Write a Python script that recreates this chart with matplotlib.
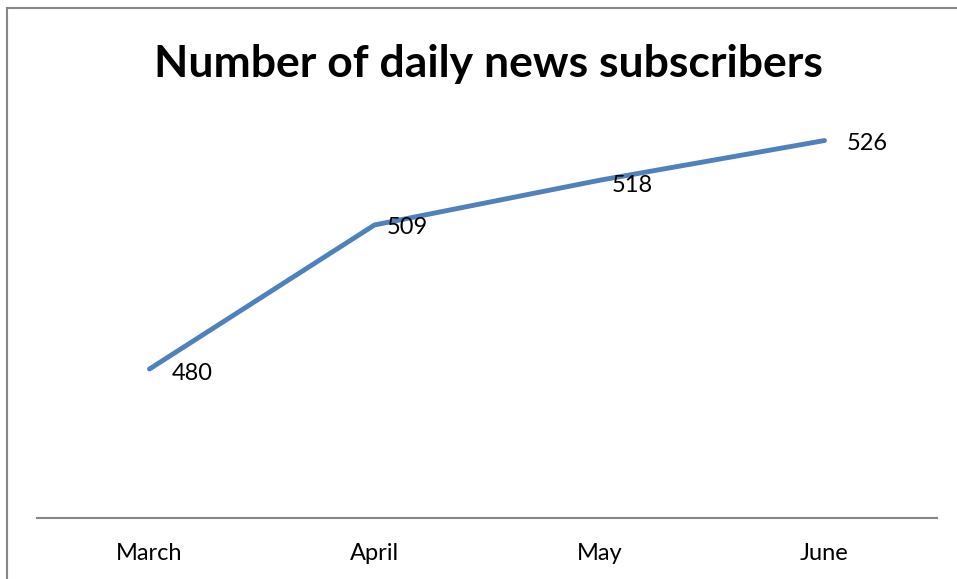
import matplotlib.pyplot as plt
from matplotlib.patches import Rectangle

# Data
months = ["March", "April", "May", "June"]
subscribers = [480, 509, 518, 526]

plt.rcParams['font.family'] = ['Lato', 'DejaVu Sans']

W, H = 957, 579
fig = plt.figure(figsize=(W / 100, H / 100), dpi=100)

# outer chart border (runs past the right and bottom edges)
fig.patches.append(Rectangle((7 / W, -0.1), 1.2, (H - 8) / H + 0.1, transform=fig.transFigure,
                             fill=False, edgecolor="#868686", linewidth=1.5))

ax = fig.add_axes([37 / W, (H - 518) / H, 900 / W, 447 / H])
x = list(range(len(months)))
ax.plot(x, subscribers, color="#4F81BD", linewidth=3.5, solid_capstyle="round")

# data labels to the right of each point
offsets = [(16, -3.5), (9, -2), (9, -3.5), (16, -2)]
for xi, v, off in zip(x, subscribers, offsets):
    ax.annotate(str(v), (xi, v), xytext=off, textcoords="offset points",
                ha="left", va="center", fontsize=17)

ax.set_xlim(-0.5, 3.5)
ax.set_ylim(450, 540)
ax.set_xticks(x)
ax.set_xticklabels(months, fontsize=17)
ax.tick_params(axis="x", length=0, pad=18)
ax.set_yticks([])
for side in ["top", "right", "left"]:
    ax.spines[side].set_visible(False)
ax.spines["bottom"].set_color("#868686")
ax.spines["bottom"].set_linewidth(1.5)

fig.text(488 / W, 1 - 64 / H, "Number of daily news subscribers", ha="center", va="center",
         fontsize=32, fontweight="bold")

fig.savefig("out.png", dpi=100)
